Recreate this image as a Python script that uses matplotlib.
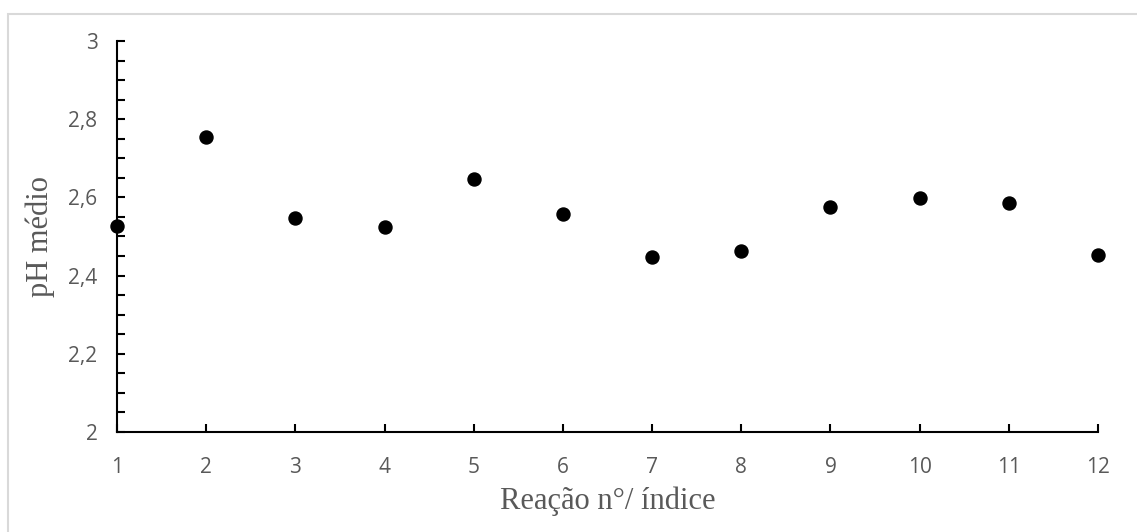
import matplotlib
matplotlib.use("Agg")
import matplotlib.pyplot as plt
from matplotlib.patches import Rectangle
from matplotlib.ticker import MultipleLocator, FuncFormatter

plt.rcParams['font.family'] = ['Open Sans', 'DejaVu Sans']

# pH médio por reação
reacoes = [1, 2, 3, 4, 5, 6, 7, 8, 9, 10, 11, 12]
ph_medio = [2.527, 2.754, 2.547, 2.525, 2.646, 2.558, 2.448, 2.464, 2.575, 2.598, 2.585, 2.453]

fig = plt.figure(figsize=(11.37, 5.32), dpi=100)
ax = fig.add_axes([0.1029, 0.188, 0.8628, 0.735])

ax.scatter(reacoes, ph_medio, s=88, color='black', zorder=3, clip_on=False)

ax.set_xlim(1, 12)
ax.set_ylim(2, 3)
ax.xaxis.set_major_locator(MultipleLocator(1))
ax.yaxis.set_major_locator(MultipleLocator(0.2))
ax.yaxis.set_minor_locator(MultipleLocator(0.05))
ax.yaxis.set_major_formatter(FuncFormatter(lambda v, p: f"{v:g}".replace('.', ',')))

for side in ['top', 'right']:
    ax.spines[side].set_visible(False)
for side in ['left', 'bottom']:
    ax.spines[side].set_linewidth(1.5)
    ax.spines[side].set_color('black')

ax.tick_params(axis='both', which='both', direction='in', width=1.5, length=5.5,
               labelsize=15, labelcolor='#595959')
ax.tick_params(axis='y', pad=14)
ax.tick_params(axis='x', pad=18)

ax.set_xlabel('Reação n°/ índice', family='Liberation Serif', fontsize=22,
              color='#595959')
ax.set_ylabel('pH médio', family='Liberation Serif', fontsize=22,
              color='#595959')
ax.xaxis.set_label_coords(0.5, -0.14)
ax.yaxis.set_label_coords(-0.063, 0.5)

# borda cinza da área do gráfico (cortada à direita e em baixo)
fig.patches.append(Rectangle((8 / 1137, -0.05), 1.1, 0.05 + (532 - 14) / 532,
                             transform=fig.transFigure, fill=False,
                             edgecolor='#d9d9d9', linewidth=1.5))

fig.savefig('out.png', dpi=100)
